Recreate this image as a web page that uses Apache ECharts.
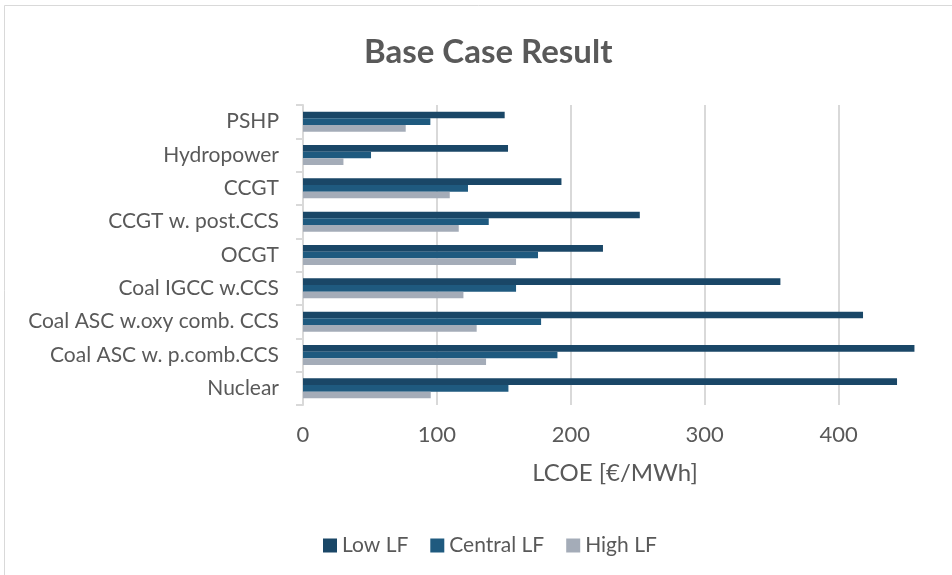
<!DOCTYPE html>
<html>
<head>
<meta charset="utf-8">
<title>Base Case Result</title>
<script src="https://cdn.jsdelivr.net/npm/echarts@6/dist/echarts.min.js"></script>
<style>
  html, body { margin: 0; padding: 0; background: #ffffff; }
  #chart { width: 952px; height: 575px; }
</style>
</head>
<body>
<div id="chart"></div>
<script>
// Technologies, listed top to bottom
const technologies = [
  'PSHP',
  'Hydropower',
  'CCGT',
  'CCGT w. post.CCS',
  'OCGT',
  'Coal IGCC w.CCS',
  'Coal ASC w.oxy comb. CCS',
  'Coal ASC w. p.comb.CCS',
  'Nuclear'
];

// LCOE in €/MWh for each load-factor scenario
const lowLF     = [150.6, 153.1, 193.0, 251.5, 224.0, 356.5, 418.2, 456.6, 443.6];
const centralLF = [95.1, 50.8, 123.2, 138.7, 175.5, 159.1, 177.8, 190.0, 153.4];
const highLF    = [76.7, 30.2, 109.6, 116.3, 159.1, 119.8, 129.7, 136.7, 95.4];

const seriesNames = ['Low LF', 'Central LF', 'High LF'];
const seriesData = [lowLF, centralLF, highLF];
const seriesColors = ['#1a4767', '#1f5a7f', '#a4acb8'];

const FONT = 'Lato, "Open Sans", sans-serif';
const TEXT = '#595959';
const GRID_LINE = '#d9d9d9';

const chart = echarts.init(document.getElementById('chart'), null, { renderer: 'canvas' });

chart.setOption({
  animation: false,
  backgroundColor: '#ffffff',
  graphic: [{
    type: 'rect',
    shape: { x: 4.5, y: 5.5, width: 1100, height: 700 },
    style: { fill: 'none', stroke: '#d9d9d9', lineWidth: 1 },
    silent: true,
    z: -10
  }],
  title: {
    text: 'Base Case Result',
    left: 359,
    top: 31,
    textStyle: { fontFamily: FONT, fontSize: 33, fontWeight: 'bold', color: TEXT }
  },
  legend: {
    data: seriesNames,
    left: 318,
    top: 530,
    icon: 'rect',
    itemWidth: 14,
    itemHeight: 14,
    itemGap: 22,
    textStyle: { fontFamily: FONT, fontSize: 21, color: TEXT }
  },
  grid: {
    left: 303,
    top: 105,
    width: 616,
    height: 300,
    containLabel: false,
    outerBoundsMode: 'none'
  },
  xAxis: {
    type: 'value',
    min: 0,
    max: 460,
    interval: 100,
    name: 'LCOE [€/MWh]',
    nameLocation: 'middle',
    nameGap: 56,
    nameTextStyle: { fontFamily: FONT, fontSize: 24, color: TEXT, padding: [0, 0, 0, 8] },
    axisLine: { show: false },
    axisTick: { show: false },
    axisLabel: {
      fontFamily: FONT, fontSize: 22, color: TEXT, margin: 19,
      showMaxLabel: false
    },
    splitLine: {
      show: true,
      showMaxLine: false,
      lineStyle: { color: GRID_LINE, width: 2 }
    }
  },
  yAxis: {
    type: 'category',
    data: technologies,
    inverse: true,
    axisLine: { show: true, lineStyle: { color: GRID_LINE, width: 2 } },
    axisTick: { show: true, length: 7, lineStyle: { color: GRID_LINE, width: 2 } },
    axisLabel: { fontFamily: FONT, fontSize: 21, color: TEXT, margin: 24 },
    splitLine: { show: false }
  },
  series: seriesNames.map((name, i) => ({
    name: name,
    type: 'bar',
    data: seriesData[i],
    barGap: '0%',
    barCategoryGap: '40%',
    itemStyle: { color: seriesColors[i] }
  }))
});
</script>
</body>
</html>
